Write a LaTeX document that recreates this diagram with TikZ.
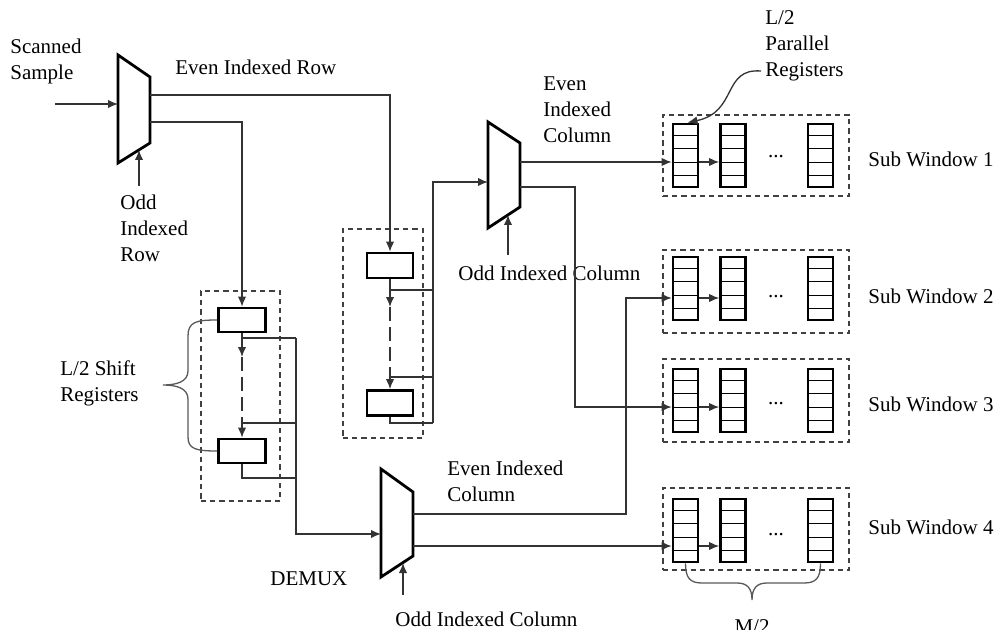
\documentclass[tikz,border=0pt]{standalone}
\usepackage{fontspec}
\setmainfont{Liberation Serif}
\usetikzlibrary{arrows.meta,calc}
\newcommand{\regcolumn}[3]{%
  \node[regcol] (#1) at (#2,#3) {};
  \foreach \k in {1,...,4}{
    \draw[line width=0.5pt] ($(#1.north west)!\k/5!(#1.south west)$) -- ($(#1.north east)!\k/5!(#1.south east)$);
  }
}
\begin{document}
\begin{tikzpicture}[x=0.5pt,y=-0.5pt,
  wire/.style={line width=0.65pt,draw=black!80},
  arr/.style={wire,-{Latex[length=5pt,width=4.2pt]}},
  regbox/.style={draw,line width=1.4pt,minimum width=23.5pt,minimum height=12pt,inner sep=0pt},
  regcol/.style={draw,line width=1.4pt,minimum width=12.5pt,minimum height=31.5pt,inner sep=0pt},
  dbox/.style={draw=black!75,line width=0.65pt,dash pattern=on 2.6pt off 2pt,inner sep=0pt},
  chain/.style={wire,dash pattern=on 7pt off 3pt},
  mux/.style={line width=1.4pt,line join=miter},
  lbl/.style={inner sep=0pt,font=\fontsize{10.5}{13}\selectfont,align=left},
  brace/.style={line width=0.65pt,draw=black!65}]
\useasboundingbox (0,0) rectangle (999,630);

% ---------- MUX 1 ----------
\coordinate (m1tl) at (118,55);
\coordinate (m1tr) at (150,77);
\coordinate (m1br) at (150,143);
\coordinate (m1bl) at (118,163);
\draw[mux] (m1tl) -- (m1tr) -- (m1br) -- (m1bl) -- cycle;
\coordinate (m1in) at (118,104);
\coordinate (scin) at (55,104);
\coordinate (m1o1) at (150,95);
\coordinate (m1o2) at (150,122);
\coordinate (m1sel) at (139,150);
\coordinate (m1src) at (139,186);
\draw[arr] (scin) -- (m1in);
\draw[arr] (m1src) -- (m1sel);

\node[lbl,anchor=west] (lscan) at (10,61.5) {Scanned\\Sample};
\node[lbl,anchor=west] (levenrow) at (175,67) {Even Indexed Row};
\node[lbl,anchor=west] (loddrow) at (120,228) {Odd\\Indexed\\Row};

% ---------- left shift registers ----------
\node[dbox,minimum width=39.5pt,minimum height=105pt] (g1) at (240.5,396) {};
\node[regbox] (r1) at (242,320) {};
\node[regbox] (r2) at (242,451) {};
\coordinate (c1a) at (242,357);
\coordinate (c1b) at (242,423);
\coordinate (r1tap) at (242,338);
\coordinate (t1) at (296,338);
\coordinate (t2) at (296,423);
\coordinate (t3) at (296,478);
\draw[arr] (r1.south) -- (c1a);
\draw[chain] (c1a) -- (c1b);
\draw[arr] (c1b) -- (r2.north);
\draw[wire] (r1tap) -- (t1);
\draw[wire] (c1b) -- (t2);
\draw[wire] (r2.south) |- (t3);
\draw[arr] (m1o2) -| (r1.north);

\draw[brace] (r1.west) .. controls (196,320) and (188,322) .. (188,336)
  -- (188,371) .. controls (188,382) and (176,385) .. (163,385)
  .. controls (176,385) and (188,388) .. (188,399)
  -- (188,437) .. controls (188,449) and (196,451) .. (r2.west);
\node[lbl,anchor=west] (lshift) at (60,383) {L/2 Shift\\Registers};

% ---------- middle shift registers ----------
\node[dbox,minimum width=40pt,minimum height=104.5pt] (g2) at (383,333.5) {};
\node[regbox,minimum width=23pt,minimum height=12.5pt] (rA) at (390,265.5) {};
\node[regbox,minimum width=23pt,minimum height=12.5pt] (rB) at (390,403) {};
\coordinate (c2a) at (390,307);
\coordinate (c2b) at (390,377);
\coordinate (rAtap) at (390,290);
\coordinate (u1) at (433,290);
\coordinate (u2) at (433,377);
\coordinate (u3) at (433,423);
\draw[arr] (rA.south) -- (c2a);
\draw[chain] (c2a) -- (c2b);
\draw[arr] (c2b) -- (rB.north);
\draw[wire] (rAtap) -- (u1);
\draw[wire] (c2b) -- (u2);
\draw[wire] (rB.south) |- (u3);
\draw[arr] (m1o1) -| (rA.north);

% ---------- MUX 2 ----------
\coordinate (m2tl) at (488,122);
\coordinate (m2tr) at (520,143);
\coordinate (m2br) at (520,207);
\coordinate (m2bl) at (488,228);
\draw[mux] (m2tl) -- (m2tr) -- (m2br) -- (m2bl) -- cycle;
\coordinate (m2in) at (488,182);
\coordinate (m2o1) at (520,162);
\coordinate (m2o2) at (520,187);
\coordinate (m2sel) at (508,215);
\coordinate (m2src) at (508,255);
\draw[arr] (u3) |- (m2in);
\draw[arr] (m2src) -- (m2sel);
\node[lbl,anchor=west] (levencol1) at (543,110) {Even\\Indexed\\Column};
\node[lbl,anchor=west] (loddcol1) at (458,273) {Odd Indexed Column};

% ---------- DEMUX ----------
\coordinate (dtl) at (381,469);
\coordinate (dtr) at (413,492);
\coordinate (dbr) at (413,556);
\coordinate (dbl) at (381,577);
\draw[mux] (dtl) -- (dtr) -- (dbr) -- (dbl) -- cycle;
\coordinate (din) at (381,534);
\coordinate (do1) at (413,514);
\coordinate (do2) at (413,546);
\coordinate (dsel) at (403,563);
\coordinate (dsrc) at (403,595);
\draw[arr] (t1) |- (din);
\draw[arr] (dsrc) -- (dsel);
\node[lbl,anchor=west] (levencol2) at (447,481) {Even Indexed\\Column};
\node[lbl,anchor=west] (loddcol2) at (395,619) {Odd Indexed Column};
\node[lbl,anchor=west] (ldemux) at (270,579) {DEMUX};

% ---------- sub windows ----------
\node[dbox,minimum width=93pt,minimum height=40.5pt] (w1) at (756,155.5) {};
\node[dbox,minimum width=93pt,minimum height=41.5pt] (w2) at (756,291.5) {};
\node[dbox,minimum width=93pt,minimum height=41.5pt] (w3) at (756,400.5) {};
\node[dbox,minimum width=93pt,minimum height=41pt] (w4) at (756,529) {};

\regcolumn{w1c1}{685.5}{155.5}
\regcolumn{w1c2}{733}{155.5}
\regcolumn{w1c3}{820.5}{155.5}
\regcolumn{w2c1}{685.5}{288.5}
\regcolumn{w2c2}{733}{288.5}
\regcolumn{w2c3}{820.5}{288.5}
\regcolumn{w3c1}{685.5}{400.5}
\regcolumn{w3c2}{733}{400.5}
\regcolumn{w3c3}{820.5}{400.5}
\regcolumn{w4c1}{685.5}{530.5}
\regcolumn{w4c2}{733}{530.5}
\regcolumn{w4c3}{820.5}{530.5}

\coordinate (k1) at (575,407);
\coordinate (k2) at (626,298);
\draw[arr] (m2o1) -- (m2o1 -| w1c1.west);
\draw[arr] (m2o2) -| (k1) -- (k1 -| w3c1.west);
\draw[arr] (do1) -| (k2) -- (k2 -| w2c1.west);
\draw[arr] (do2) -- (do2 -| w4c1.west);

\draw[arr] (w1c1.east |- m2o1) -- (w1c2.west |- m2o1);
\draw[arr] (w2c1.east |- k2) -- (w2c2.west |- k2);
\draw[arr] (w3c1.east |- k1) -- (w3c2.west |- k1);
\draw[arr] (w4c1.east |- do2) -- (w4c2.west |- do2);

\node[lbl] (w1d) at (776,157) {...};
\node[lbl] (w2d) at (776,297) {...};
\node[lbl] (w3d) at (776,404) {...};
\node[lbl] (w4d) at (776,535) {...};

\node[lbl,anchor=west] (w1l) at (868,159) {Sub Window 1};
\node[lbl,anchor=west] (w2l) at (868,296) {Sub Window 2};
\node[lbl,anchor=west] (w3l) at (868,404) {Sub Window 3};
\node[lbl,anchor=west] (w4l) at (868,527) {Sub Window 4};

% parallel registers label
\node[lbl,anchor=west] (lpar) at (765,46) {L/2\\Parallel\\Registers};
\coordinate (parst) at (761,71);
\draw[wire,-{Latex[length=5pt,width=4.2pt]}] (parst) .. controls (722,68) and (738,112) .. ($(w1c1.north)+(2,0)$);

% M/2 brace
\draw[brace] (w4c1.south) .. controls (685.5,578) and (690,583) .. (702,583)
  -- (737,583) .. controls (747,583) and (752,588) .. (752,600)
  .. controls (752,588) and (757,583) .. (767,583)
  -- (804,583) .. controls (816,583) and (820.5,578) .. (w4c3.south);
\node[lbl,anchor=north] (lm2) at (752,619) {M/2};
\end{tikzpicture}
\end{document}
